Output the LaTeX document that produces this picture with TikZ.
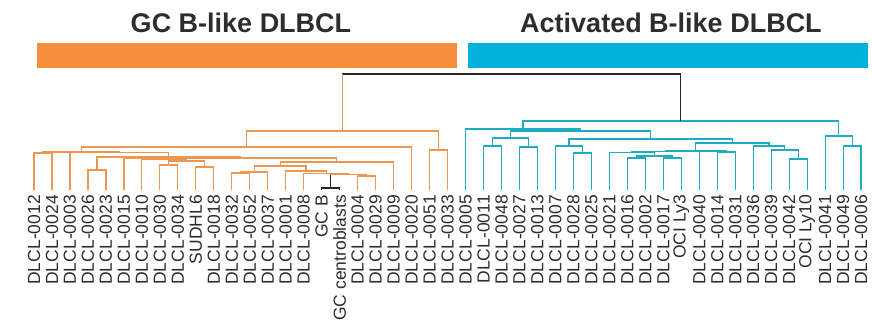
\documentclass[tikz,border=0pt]{standalone}
\usepackage{fontspec}
\setmainfont{Liberation Sans}
\usetikzlibrary{calc}
\definecolor{obar}{RGB}{247,142,60}
\definecolor{bbar}{RGB}{0,178,218}
\definecolor{oline}{RGB}{236,150,80}
\definecolor{bline}{RGB}{30,172,196}
\definecolor{txt}{RGB}{45,45,45}
\tikzset{
  og/.style={draw=oline,line width=1.2pt},
  bg/.style={draw=bline,line width=1.2pt},
  blk/.style={draw=black!85,line width=1.2pt},
  lab/.style={rotate=90,anchor=east,inner sep=0pt,text=txt,font=\fontsize{17.5}{18}\selectfont},
  ttl/.style={anchor=base,inner sep=0pt,text=txt,font=\fontsize{27}{30}\selectfont\bfseries}
}
\newcommand\dn[5]{\path let \p1=(#3), \p2=(#4) in coordinate (#2) at ({(\x1+\x2)/2},{-#5pt});
  \draw[#1] (#3) |- (#2) -| (#4);}
\begin{document}
\begin{tikzpicture}[x=1pt,y=-1pt]
\useasboundingbox (0,0) rectangle (872,329);
% titles and bars
\node[ttl] (t1) at (241,33) {GC B-like DLBCL};
\node[ttl] (t2) at (671,33) {Activated B-like DLBCL};
\fill[obar] (37,43) rectangle (457,68);
\fill[bbar] (468,43) rectangle (868,68);
% leaves
\foreach \i/\t in {0/DLCL-0012,1/DLCL-0024,2/DLCL-0003,3/DLCL-0026,4/DLCL-0023,5/DLCL-0015,
  6/DLCL-0010,7/DLCL-0030,8/DLCL-0034,9/SUDHL6,10/DLCL-0018,11/DLCL-0032,12/DLCL-0052,
  13/DLCL-0037,14/DLCL-0001,15/DLCL-0008,16/GC B,17/GC centroblasts,18/DLCL-0004,
  19/DLCL-0029,20/DLCL-0009,21/DLCL-0020,22/DLCL-0051,23/DLCL-0033,24/DLCL-0005,
  25/DLCL-0011,26/DLCL-0048,27/DLCL-0027,28/DLCL-0013,29/DLCL-0007,30/DLCL-0028,
  31/DLCL-0025,32/DLCL-0021,33/DLCL-0016,34/DLCL-0002,35/DLCL-0017,36/OCI Ly3,
  37/DLCL-0040,38/DLCL-0014,39/DLCL-0031,40/DLCL-0036,41/DLCL-0039,42/DLCL-0042,
  43/OCI Ly10,44/DLCL-0041,45/DLCL-0049,46/DLCL-0006}{
  \coordinate (l\i) at ({34+17.98*\i},190);
  \node[lab] (t\i) at ({34+17.98*\i},195) {\t};
}
% orange cluster
\dn{og}{n01}{l0}{l1}{153}
\dn{og}{n34}{l3}{l4}{170}
\dn{og}{n78}{l7}{l8}{165}
\dn{og}{n910}{l9}{l10}{167}
\dn{og}{n710}{n78}{n910}{161}
\dn{og}{n6x}{l6}{n710}{159}
\dn{og}{n5x}{l5}{n6x}{158.5}
\dn{og}{n1112}{l11}{l12}{173}
\dn{og}{n1113}{n1112}{l13}{172}
\dn{blk}{n1617}{l16}{l17}{188}
\dn{og}{n1819}{l18}{l19}{176}
\dn{og}{nG1}{n1617}{n1819}{174.5}
\draw[blk] (n1617) -- (n1617 |- nG1);
\dn{og}{nG2}{l15}{nG1}{173.5}
\dn{og}{nG3}{l14}{nG2}{171}
\dn{og}{nK}{n1113}{nG3}{166}
\dn{og}{nK2}{nK}{l20}{162}
\dn{og}{nT}{n5x}{nK2}{158}
\dn{og}{nS}{n34}{nT}{157}
\dn{og}{nQ}{l2}{nS}{152.5}
\dn{og}{nA1}{n01}{nQ}{152}
\dn{og}{nA}{nA1}{l21}{147}
\dn{og}{nB}{l22}{l23}{150}
\dn{og}{nO}{nA}{nB}{131}
% blue cluster
\dn{bg}{n2526}{l25}{l26}{146}
\dn{bg}{n2728}{l27}{l28}{147}
\dn{bg}{nP}{n2526}{n2728}{138}
\dn{bg}{n3031}{l30}{l31}{153}
\dn{bg}{n29x}{l29}{n3031}{146}
\dn{bg}{n3334}{l33}{l34}{158}
\dn{bg}{n3536}{l35}{l36}{158}
\dn{bg}{nM3}{n3334}{n3536}{156}
\dn{bg}{nM4}{l32}{nM3}{152.5}
\dn{bg}{nM5}{nM4}{l37}{151.5}
\dn{bg}{n3839}{l38}{l39}{152}
\dn{bg}{nL}{nM5}{n3839}{151}
\dn{bg}{n4243}{l42}{l43}{159}
\dn{bg}{n41x}{l41}{n4243}{150}
\dn{bg}{n40x}{l40}{n41x}{146}
\dn{bg}{nW}{nL}{n40x}{143}
\dn{bg}{nZ}{n29x}{nW}{139}
\dn{bg}{nY}{nP}{nZ}{131}
\dn{bg}{nX}{l24}{nY}{129}
\dn{bg}{n4546}{l45}{l46}{146}
\dn{bg}{nRR}{l44}{n4546}{136}
\dn{bg}{nBl}{nX}{nRR}{121}
% root
\dn{blk}{root}{nO}{nBl}{74}
\draw[og] (nO) -- (nO |- root);
\end{tikzpicture}
\end{document}
